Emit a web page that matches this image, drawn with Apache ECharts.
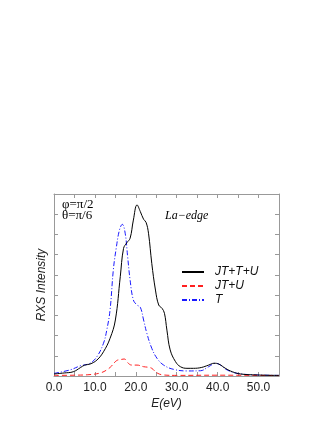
<!DOCTYPE html>
<html><head><meta charset="utf-8">
<script src="https://cdn.jsdelivr.net/npm/echarts@6/dist/echarts.min.js"></script>
<style>html,body{margin:0;padding:0;background:#fff}#c{width:327px;height:423px}</style>
</head><body><div id="c"></div>
<script>
var seriesNames = ['JT+T+U', 'JT+U', 'T'];
var xTickLabels = ['0.0', '10.0', '20.0', '30.0', '40.0', '50.0'];

var blackX = [0, 2.5, 4.7, 6.5, 7.5, 8.8, 10.5, 12.1, 13.7, 15, 16.2, 17, 17.8, 18.6, 19.4, 20.3, 21.1, 21.9, 22.5, 23.1, 23.9, 24.8, 25.6, 26.4, 27, 27.6, 28.4, 29.7, 30.9, 32.5, 34.1, 36, 37.8, 39.1, 40.3, 41.9, 43.6, 45.6, 49.7, 55];
var blackY = [0.1, 0.15, 0.21, 0.42, 0.54, 0.59, 0.79, 1.2, 1.86, 2.77, 4.91, 6.31, 6.59, 6.81, 7.71, 8.46, 8.13, 7.75, 7.6, 7.06, 5.57, 4.25, 3.51, 3.35, 3.1, 2.27, 1.29, 0.71, 0.46, 0.38, 0.38, 0.42, 0.54, 0.63, 0.59, 0.38, 0.21, 0.1, 0.05, 0.03];

var redX = [0, 5, 8.8, 11.3, 12.9, 14.1, 15.3, 16.5, 17.2, 18, 19, 20.3, 21.9, 23.1, 23.9, 25.2, 26.8, 30, 40, 55];
var redY = [0.03, 0.04, 0.07, 0.15, 0.3, 0.5, 0.76, 0.82, 0.84, 0.66, 0.54, 0.54, 0.46, 0.43, 0.38, 0.15, 0.05, 0.03, 0.04, 0.02];

var blueX = [0, 3.9, 6.4, 8.8, 10.5, 12.1, 12.9, 13.7, 14.5, 15.2, 16, 16.7, 17.4, 18, 18.6, 19.4, 20.3, 21.1, 21.9, 22.7, 23.9, 25.2, 26.8, 29.2, 32.5, 35.8, 37.8, 39.5, 40.7, 42.3, 44.8, 49.7, 55];
var blueY = [0.13, 0.3, 0.5, 0.63, 0.96, 1.62, 2.27, 3.26, 5.24, 6.31, 7.22, 7.5, 7.06, 5.9, 4.75, 3.76, 3.51, 3.4, 2.77, 2.11, 1.37, 0.87, 0.54, 0.33, 0.25, 0.26, 0.46, 0.63, 0.54, 0.3, 0.13, 0.05, 0.03];

function pairs(xs, ys) { return xs.map(function (x, i) { return [x, ys[i]]; }); }

var chart = echarts.init(document.getElementById('c'), null, {renderer: 'canvas'});
var axisCol = '#999';
var sans = 'Liberation Sans';
function xAx(pos, showLabel) {
  return {
    type: 'value', position: pos, min: 0, max: 55, interval: 10,
    axisLine: {show: true, onZero: false, lineStyle: {color: axisCol, width: 1}},
    axisTick: {show: true, inside: true, length: 4, lineStyle: {color: axisCol}},
    minorTick: {show: true, splitNumber: 2, length: 4, lineStyle: {color: axisCol}},
    axisLabel: {show: showLabel, color: '#222', fontFamily: sans, fontSize: 12, margin: 6,
      formatter: function (v) { return xTickLabels[Math.round(v / 10)] || ''; }},
    splitLine: {show: false},
    name: showLabel ? 'E(eV)' : '', nameLocation: 'middle', nameGap: 22,
    nameTextStyle: {fontFamily: sans, fontStyle: 'italic', fontSize: 12, color: '#222'}
  };
}
function yAx(pos, showName) {
  return {
    type: 'value', position: pos, min: 0, max: 9, interval: 1,
    axisLine: {show: true, onZero: false, lineStyle: {color: axisCol, width: 1}},
    axisTick: {show: true, inside: true, length: 4, lineStyle: {color: axisCol}},
    axisLabel: {show: false},
    splitLine: {show: false},
    name: showName ? 'RXS Intensity' : '', nameLocation: 'middle', nameGap: 6, nameRotate: 90,
    nameTextStyle: {fontFamily: sans, fontStyle: 'italic', fontSize: 12, color: '#222'}
  };
}
chart.setOption({
  animation: false,
  backgroundColor: '#fff',
  grid: {left: 54, right: 48, top: 194, bottom: 47},
  xAxis: [xAx('bottom', true), xAx('top', false)],
  yAxis: [yAx('left', true), yAx('right', false)],
  legend: {
    orient: 'vertical', left: 181, top: 265, itemWidth: 22, itemHeight: 10, itemGap: 0,
    padding: 0,
    data: seriesNames,
    itemStyle: {opacity: 0},
    textStyle: {fontFamily: sans, fontStyle: 'italic', fontSize: 12, color: '#111', padding: [0, 0, 0, 6], lineHeight: 14}
  },
  series: [
    {name: seriesNames[2], type: 'line', symbol: 'none', smooth: 0.4, data: pairs(blueX, blueY),
      lineStyle: {color: '#1a1aff', width: 1, type: [5, 2, 1, 2]}, itemStyle: {color: '#1a1aff'}, z: 2},
    {name: seriesNames[1], type: 'line', symbol: 'none', smooth: 0.4, data: pairs(redX, redY),
      lineStyle: {color: '#ff2020', width: 1, type: [5, 3]}, itemStyle: {color: '#ff2020'}, z: 3},
    {name: seriesNames[0], type: 'line', symbol: 'none', smooth: 0.4, data: pairs(blackX, blackY),
      lineStyle: {color: '#000', width: 1}, itemStyle: {color: '#000'}, z: 4}
  ],
  graphic: [
    {type: 'text', left: 62, top: 198, style: {text: 'φ=π/2', font: '13px "Liberation Serif"', fill: '#000'}},
    {type: 'text', left: 62, top: 209, style: {text: 'θ=π/6', font: '13px "Liberation Serif"', fill: '#000'}},
    {type: 'text', left: 165, top: 210, style: {text: 'La−edge', font: 'italic 12px "Liberation Serif"', fill: '#000'}}
  ]
});
</script></body></html>
